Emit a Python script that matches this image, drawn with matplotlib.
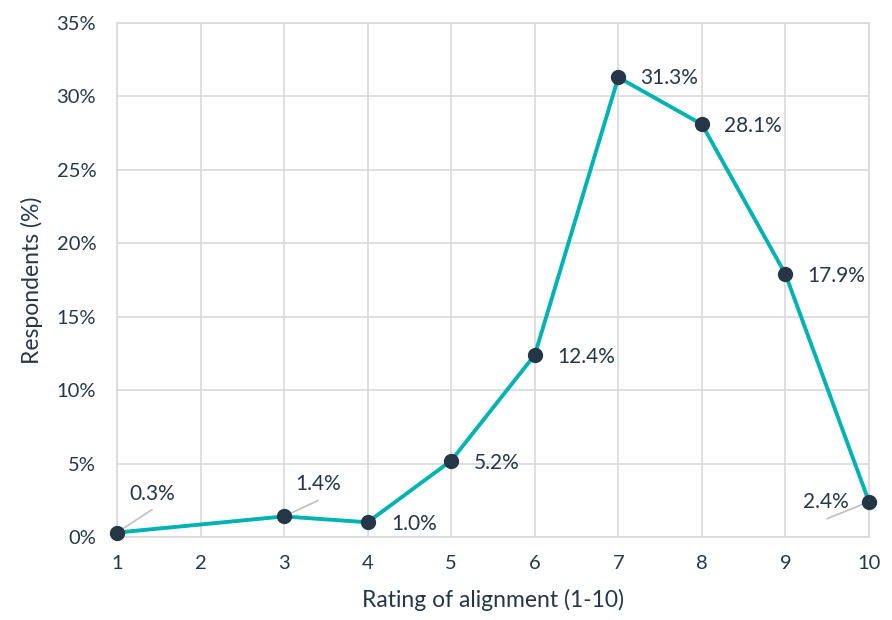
import numpy as np
import matplotlib.pyplot as plt

plt.rcParams['font.family'] = ['Lato', 'DejaVu Sans']

ratings = [1, 3, 4, 5, 6, 7, 8, 9, 10]
share = [0.3, 1.4, 1.0, 5.2, 12.4, 31.3, 28.1, 17.9, 2.4]
# label offsets in pixels (dx, dy up); leader line end in pixels or None
text_off = [(35, 39), (34, 32), (24, -2), (23, -2), (22, -2), (22, -1), (22, -2), (22, -2), (-43, 0)]
text_ha = ['center', 'center', 'left', 'left', 'left', 'left', 'left', 'left', 'center']
leader_end = [(35, 23), (34, 16), None, None, None, None, None, None, (-42, -17)]

teal = '#00B2B2'
navy = '#253746'
grid_c = '#D9D9D9'
px = 0.72  # pixels -> points at dpi 100

fig = plt.figure(figsize=(8.92, 6.2), dpi=100)
ax = fig.add_axes([0.1312, 0.1339, 0.8430, 0.8290])

ax.plot(ratings, share, color=teal, lw=2.8, zorder=3)
ax.plot(ratings, share, 'o', color=navy, ms=10, zorder=4, clip_on=False)

for x, y, (dx, dy), ha, le in zip(ratings, share, text_off, text_ha, leader_end):
    ax.annotate(f'{y:.1f}%', (x, y), xytext=(dx * px, dy * px), textcoords='offset points',
                ha=ha, va='center', fontsize=15, color=navy)
    if le is not None:
        ax.annotate('', (x, y), xytext=(le[0] * px, le[1] * px), textcoords='offset points',
                    arrowprops=dict(arrowstyle='-', color='#BFBFBF', lw=1.2,
                                    shrinkA=0, shrinkB=3))

ax.set_xlim(1, 10)
ax.set_ylim(0, 35)
ax.set_xticks(range(1, 11))
ax.set_yticks(np.arange(0, 36, 5))
ax.set_yticklabels([f'{v}%' for v in range(0, 36, 5)])
ax.grid(True, color=grid_c, lw=1.2)
ax.set_axisbelow(True)
for s in ax.spines.values():
    s.set_color(grid_c)
    s.set_linewidth(1.2)
ax.tick_params(axis='x', length=0, labelsize=14.5, colors=navy, pad=13)
ax.tick_params(axis='y', length=0, labelsize=14.5, colors=navy, pad=15)
ax.set_xlabel('Rating of alignment (1-10)', fontsize=16.5, color=navy, labelpad=12)
ax.set_ylabel('Respondents (%)', fontsize=16.5, color=navy, labelpad=10)

fig.savefig('out.png', dpi=100)
